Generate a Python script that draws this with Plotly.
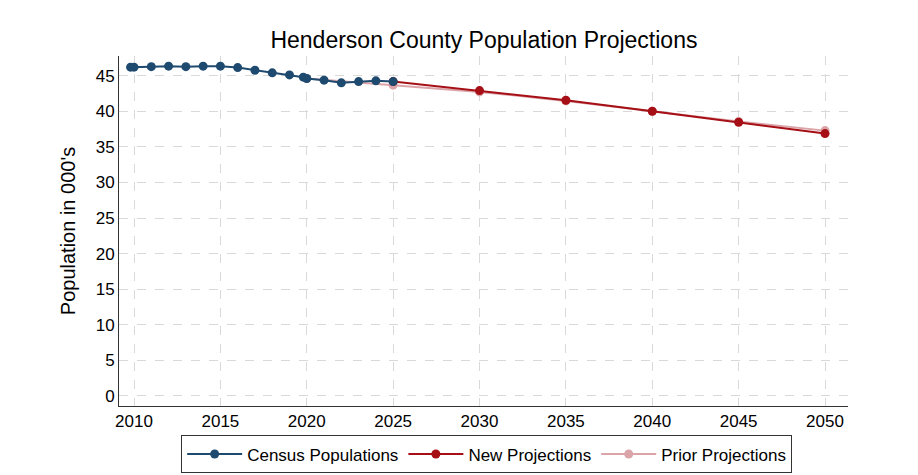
import plotly.graph_objects as go

# census estimates (two readings at 2010 and 2020: April base + July estimate)
census_years = [2009.8, 2010, 2011, 2012, 2013, 2014, 2015, 2016, 2017, 2018,
                2019, 2019.8, 2020, 2021, 2022, 2023, 2024, 2025]
census_pop = [46.23, 46.23, 46.3, 46.37, 46.3, 46.37, 46.37, 46.17, 45.8, 45.43,
              45.14, 44.82, 44.63, 44.4, 44.02, 44.2, 44.3, 44.2]

new_years = [2025, 2030, 2035, 2040, 2045, 2050]
new_pop = [44.2, 42.93, 41.58, 40.03, 38.48, 36.88]

prior_years = [2020, 2025, 2030, 2035, 2040, 2045, 2050]
prior_pop = [44.63, 43.7, 42.75, 41.48, 40.03, 38.57, 37.3]

x_ticks = list(range(2010, 2051, 5))
y_ticks = list(range(0, 46, 5))

fig = go.Figure()
fig.add_trace(go.Scatter(
    x=prior_years, y=prior_pop, name='Prior Projections',
    mode='lines+markers',
    line=dict(color='#dba4a9', width=2),
    marker=dict(color='#dba4a9', size=9),
))
fig.add_trace(go.Scatter(
    x=new_years, y=new_pop, name='New Projections',
    mode='lines+markers',
    line=dict(color='#a50f15', width=2),
    marker=dict(color='#a50f15', size=9),
))
fig.add_trace(go.Scatter(
    x=census_years, y=census_pop, name='Census Populations',
    mode='lines+markers',
    line=dict(color='#1f4a70', width=2),
    marker=dict(color='#1f4a70', size=9),
))

grid = dict(showgrid=True, gridcolor='#d9d9d9', griddash='dash', gridwidth=1)

# page body adds an 8px margin, so the figure is 8px smaller than the window
fig.update_layout(
    width=910, height=467,
    paper_bgcolor='white', plot_bgcolor='white',
    font=dict(family='Liberation Sans, Arial, sans-serif', color='black', size=17),
    title=dict(text='Henderson County Population Projections', x=0.523, xanchor='center',
               y=0.9315, yanchor='middle', font=dict(size=23)),
    margin=dict(l=111, r=70, t=48, b=69),
    showlegend=True,
    legend=dict(orientation='h', xref='container', yref='container',
                x=0.526, xanchor='center', y=0.044, yanchor='middle',
                bordercolor='#333333', borderwidth=1, traceorder='reversed',
                font=dict(size=17), itemwidth=55),
    xaxis=dict(range=[2009.13, 2051.33], tickvals=x_ticks, showline=True,
               linecolor='#333333', linewidth=1, zeroline=False, ticks='',
               automargin=False, **grid),
    yaxis=dict(range=[-1.45, 47.8], tickvals=y_ticks, showline=True,
               linecolor='#333333', linewidth=1, zeroline=False, automargin=False,
               title=dict(text="Population in 000's", font=dict(size=20), standoff=14),
               **grid),
)

fig.write_html("out.html")
